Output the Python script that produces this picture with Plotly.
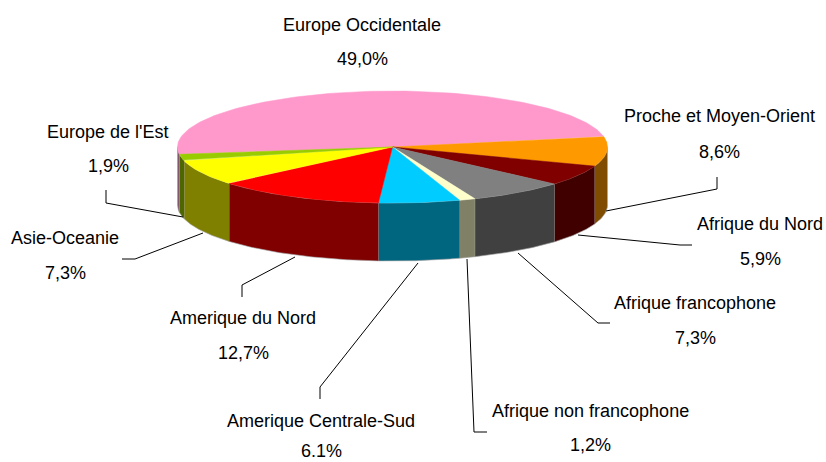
import numpy as np
import plotly.graph_objects as go

categories = ["Europe Occidentale", "Proche et Moyen-Orient", "Afrique du Nord", "Afrique francophone",
              "Afrique non francophone", "Amerique Centrale-Sud", "Amerique du Nord", "Asie-Oceanie", "Europe de l'Est"]
values = [49.0, 8.6, 5.9, 7.3, 1.2, 6.1, 12.7, 7.3, 1.9]
value_labels = ["49,0%", "8,6%", "5,9%", "7,3%", "1,2%", "6.1%", "12,7%", "7,3%", "1,9%"]
top_colors = ["#FF99CC", "#FF9900", "#800000", "#808080", "#FFFFCC", "#00CCFF", "#FF0000", "#FFFF00", "#99CC00"]
side_colors = ["#804D66", "#804C00", "#400000", "#404040", "#808066", "#006680", "#800000", "#808000", "#4D6600"]

# label layout: centre x, y of name line, y of value line
label_pos = [(362, 25, 59), (719, 116, 152), (760, 224, 259), (695, 303, 338), (590, 411, 445),
             (321, 421, 451), (243, 318, 353), (65, 238, 273), (108, 132, 166)]
leaders = [None,
           [(717, 177), (717, 189), (606, 211)],
           [(692, 245), (680, 245), (578, 235)],
           [(610, 323), (598, 323), (518, 253)],
           [(487, 432), (474, 432), (467, 259)],
           [(320, 399), (320, 387), (418, 263)],
           [(242, 297), (242, 285), (295, 257)],
           [(122, 259), (135, 259), (203, 233)],
           [(106, 190), (106, 203), (183, 217)]]

CX, CY, RX, RY, DEPTH = 392.5, 147.0, 215.0, 56.0, 58.0
END_OF_FIRST = 79.0
FONT = "Liberation Sans"


def ex(t):
    return CX + RX * np.sin(np.radians(t))


def ey(t):
    return CY - RY * np.cos(np.radians(t))


fig = go.Figure()
edges = END_OF_FIRST - values[0] * 3.6 + np.concatenate([[0], np.cumsum(values)]) * 3.6

# side walls (front half only)
for i in range(len(values)):
    for shift in (0, 360):
        a, b = edges[i] + shift, edges[i + 1] + shift
        lo, hi = max(a, 90), min(b, 270)
        if hi <= lo:
            continue
        t = np.linspace(lo, hi, 60)
        xs = np.concatenate([ex(t), ex(t[::-1])])
        ys = np.concatenate([ey(t), ey(t[::-1]) + DEPTH])
        fig.add_trace(go.Scatter(x=xs, y=ys, mode="lines", fill="toself", fillcolor=side_colors[i],
                                 line=dict(color="#A0A0A0", width=0.6), hoverinfo="skip", showlegend=False))

# top faces
for i in range(len(values)):
    t = np.linspace(edges[i], edges[i + 1], 120)
    xs = np.concatenate([[CX], ex(t), [CX]])
    ys = np.concatenate([[CY], ey(t), [CY]])
    fig.add_trace(go.Scatter(x=xs, y=ys, mode="lines", fill="toself", fillcolor=top_colors[i],
                             line=dict(color=top_colors[i], width=0.5), name=categories[i],
                             hoverinfo="name", showlegend=False))

# leader lines
for pts in leaders:
    if pts:
        fig.add_trace(go.Scatter(x=[p[0] for p in pts], y=[p[1] for p in pts], mode="lines",
                                 line=dict(color="#000000", width=1), hoverinfo="skip", showlegend=False))

# labels
for name, val, (lx, y1, y2) in zip(categories, value_labels, label_pos):
    for txt, yy in ((name, y1), (val, y2)):
        fig.add_annotation(x=lx, y=yy, text=txt, showarrow=False, xref="x", yref="y",
                           xanchor="center", yanchor="middle",
                           font=dict(family=FONT, size=18, color="#000000"))

fig.update_layout(width=826, height=462, margin=dict(l=0, r=0, t=0, b=0),
                  paper_bgcolor="#FFFFFF", plot_bgcolor="#FFFFFF", showlegend=False,
                  xaxis=dict(range=[0, 826], visible=False, fixedrange=True),
                  yaxis=dict(range=[462, 0], visible=False, fixedrange=True))
fig.write_html("out.html", config=dict(displayModeBar=False),
               post_script="document.body.style.margin='0';document.body.style.overflow='hidden';")
